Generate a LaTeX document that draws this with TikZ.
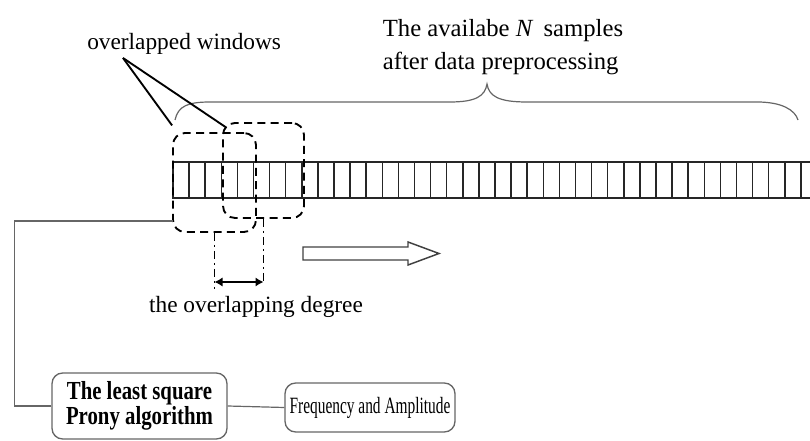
\documentclass[tikz,border=0pt]{standalone}
\usepackage{fontspec}
\setmainfont{Liberation Serif}
\newfontfamily\narrowserif[FakeStretch=0.8]{Liberation Serif}
\newfontfamily\narrowerserif[FakeStretch=0.66]{Liberation Serif}
\usetikzlibrary{arrows.meta}

\tikzset{
  window/.style={draw, line width=1.4pt, dash pattern=on 6pt off 4pt, rounded corners=9pt, inner sep=0pt},
  pointer/.style={line width=1.4pt},
  dashdot/.style={line width=1.2pt, dash pattern=on 6pt off 3pt on 1.5pt off 3pt},
  degree/.style={line width=1.5pt, {Latex[length=6pt,width=7pt]}-{Latex[length=6pt,width=7pt]}},
  conn/.style={draw=black!60, line width=0.9pt},
  roundbox/.style={draw=black!60, line width=1pt, rounded corners=8pt, inner sep=0pt},
  label/.style={font=\fontsize{17.5}{20}\selectfont, inner sep=0pt}
}

\begin{document}
\begin{tikzpicture}[x=0.75pt,y=0.75pt,yscale=-1,xscale=1]
\useasboundingbox (0,0) rectangle (810,441);

%Shape: Sample strip
\draw [black!85, line width=1.1pt] (173,162) rectangle (830,198);
\foreach \i in {1,...,40}
  \draw [black!85, line width=1.1pt] (173+\i*16.1,162) -- ++(0,36);

%Shape: Brace over the samples
\draw [black!60, line width=0.9pt] (175,120) .. controls (178,106) and (188,102) .. (210,102) -- (450,102) .. controls (476,102) and (485,96) .. (487,84) .. controls (489,96) and (498,102) .. (527,102) -- (757,102) .. controls (782,102) and (795,110) .. (798,120);

% Text Node
\node (samples) at (503,47) [align=left, inner sep=0pt, font=\fontsize{18.5}{24.5}\selectfont] {The availabe \textit{N}\, samples\\after data preprocessing};

%Shape: Windows
\node (win1) at (214.5,182.5) [window, minimum width=62.25pt, minimum height=74.25pt] {};
\node (win2) at (263.5,170.5) [window, minimum width=60.75pt, minimum height=71.25pt] {};

% Text Node
\node (winlabel) at (87,44) [label, anchor=west] {overlapped windows};
\coordinate (winpt) at (123,58);
\draw [pointer] (winpt) -- ([yshift=-5pt]win1.north west);
\draw [pointer] (winpt) -- ([xshift=3pt,yshift=4pt]win2.north west);

%Straight Lines: overlapping degree
\draw [dashdot] (win1.south) -- ++(0,56);
\draw [dashdot] (win2.south) -- ++(0,62);
\draw [degree] (win1.south |- 0,282) -- (win2.south |- 0,282);

% Text Node
\node (degree) at (256,307) [label] {the overlapping degree};

%Shape: Hollow arrow
\draw [black!75, line width=1.1pt] (303,247) -- (408,247) -- (408,242) -- (439,253.5) -- (408,265) -- (408,260) -- (303,260) -- cycle;

% Text Node
\node (prony) at (139.5,406) [roundbox, minimum width=131.25pt, minimum height=49.5pt, align=center, font=\narrowserif\bfseries\fontsize{19.5}{19}\selectfont] {The least square\\Prony algorithm};
% Text Node
\node (freq) at (370,407.5) [roundbox, minimum width=127.5pt, minimum height=36.75pt, font=\fontsize{17.5}{18}\narrowerserif] {Frequency and Amplitude};

%Connectors
\coordinate (wintap) at (173,221);
\draw [conn] (prony.west) -- ++(-37,0) |- (wintap);
\draw [conn] (prony.east) -- (freq.west);

\end{tikzpicture}
\end{document}
